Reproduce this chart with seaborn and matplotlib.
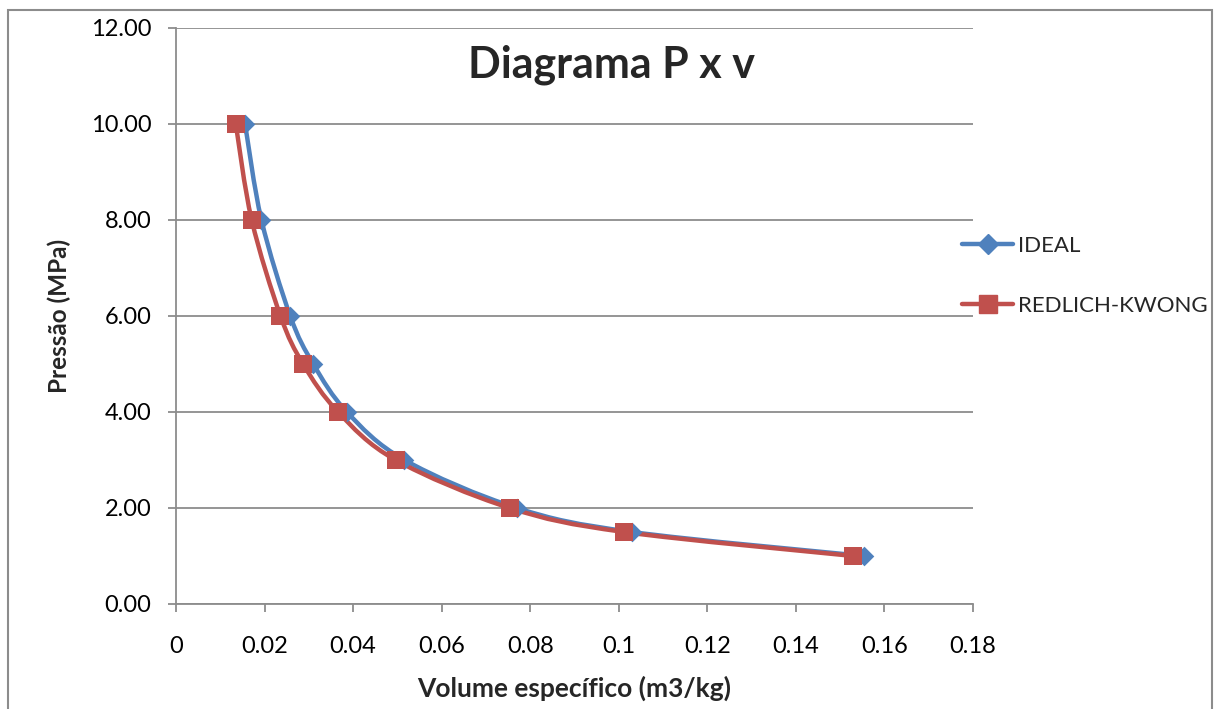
import numpy as np
import pandas as pd
import matplotlib
matplotlib.use("Agg")
import matplotlib.pyplot as plt
import seaborn as sns
from matplotlib.path import Path
from matplotlib.patches import PathPatch, Rectangle
from matplotlib.lines import Line2D
from matplotlib.ticker import FuncFormatter, MultipleLocator

pressure = [10, 8, 6, 5, 4, 3, 2, 1.5, 1]
v_ideal = [0.0156, 0.0193, 0.0258, 0.0310, 0.0386, 0.0516, 0.0770, 0.1030, 0.1554]
v_rk = [0.0135, 0.0171, 0.0236, 0.0287, 0.0366, 0.0496, 0.0754, 0.1012, 0.1530]
series_names = ["IDEAL", "REDLICH-KWONG"]
colors = ["#4F81BD", "#C0504D"]
markers = ["D", "s"]
msizes = [10, 13]

sns.set_style("white")
plt.rcParams['font.family'] = ['Lato', 'DejaVu Sans']

fig = plt.figure(figsize=(12.2, 7.09), dpi=100)
ax = fig.add_axes([176/1220, 1-604/709, (973-176)/1220, (604-28)/709])

df = pd.concat([
    pd.DataFrame({"v": v_ideal, "P": pressure, "s": series_names[0]}),
    pd.DataFrame({"v": v_rk, "P": pressure, "s": series_names[1]}),
])


def smooth_path(x, y):
    pts = np.column_stack([x, y])
    n = len(pts)
    verts = [pts[0]]
    codes = [Path.MOVETO]
    for i in range(n - 1):
        p0 = pts[i - 1] if i > 0 else pts[i]
        p1 = pts[i]
        p2 = pts[i + 1]
        p3 = pts[i + 2] if i + 2 < n else pts[i + 1]
        c1 = p1 + (p2 - p0) / 6.0
        c2 = p2 - (p3 - p1) / 6.0
        verts += [c1, c2, p2]
        codes += [Path.CURVE4] * 3
    return Path(verts, codes)


handles = []
for name, col, mk, ms in zip(series_names, colors, markers, msizes):
    sub = df[df["s"] == name]
    patch = PathPatch(smooth_path(sub["v"].values, sub["P"].values), facecolor="none",
                      edgecolor=col, lw=3.2, capstyle="round", joinstyle="round", zorder=3)
    ax.add_patch(patch)
    sns.scatterplot(data=sub, x="v", y="P", ax=ax, marker=mk, s=ms**2, color=col,
                    edgecolor=col, linewidth=0, zorder=4, legend=False)
    handles.append(Line2D([], [], color=col, lw=3.2, marker=mk, markersize=ms,
                          markeredgecolor=col))

ax.set_xlim(0, 0.18)
ax.set_ylim(0, 12)
ax.xaxis.set_major_locator(MultipleLocator(0.02))
ax.yaxis.set_major_locator(MultipleLocator(2))
ax.xaxis.set_major_formatter(FuncFormatter(lambda v, p: f"{round(v, 4):g}"))
ax.yaxis.set_major_formatter(FuncFormatter(lambda v, p: f"{v:.2f}"))
ax.grid(axis="y", color="#8c8c8c", lw=1.3)
ax.grid(axis="x", visible=False)
ax.set_axisbelow(True)
for s in ["top", "right"]:
    ax.spines[s].set_visible(False)
for s in ["left", "bottom"]:
    ax.spines[s].set_color("#8c8c8c")
    ax.spines[s].set_linewidth(1.3)
ax.tick_params(axis="both", direction="out", length=5.8, width=1.3, color="#8c8c8c",
               labelsize=17, labelcolor="black")
ax.tick_params(axis="y", left=True, pad=12)
ax.tick_params(axis="x", bottom=True, pad=17)

ax.set_xlabel("Volume específico (m3/kg)", fontsize=19, fontweight="bold", labelpad=14)
ax.set_ylabel("Pressão (MPa)", fontsize=17.5, fontweight="bold", labelpad=14)
fig.text(612/1220, 1-65/709, "Diagrama P x v", fontsize=31, fontweight="bold",
         ha="center", va="center")

leg = fig.legend(handles, series_names, loc="center left",
                 bbox_to_anchor=(942/1220, 1-276/709), frameon=False, fontsize=16,
                 handlelength=2.3, labelspacing=1.8, handletextpad=0.2)

fig.patches.append(Rectangle((8/1220, -0.01), (1212-8)/1220, 1-10/709+0.01,
                             transform=fig.transFigure, fill=False,
                             edgecolor="#8c8c8c", lw=1.5))

fig.savefig("out.png", dpi=100)
